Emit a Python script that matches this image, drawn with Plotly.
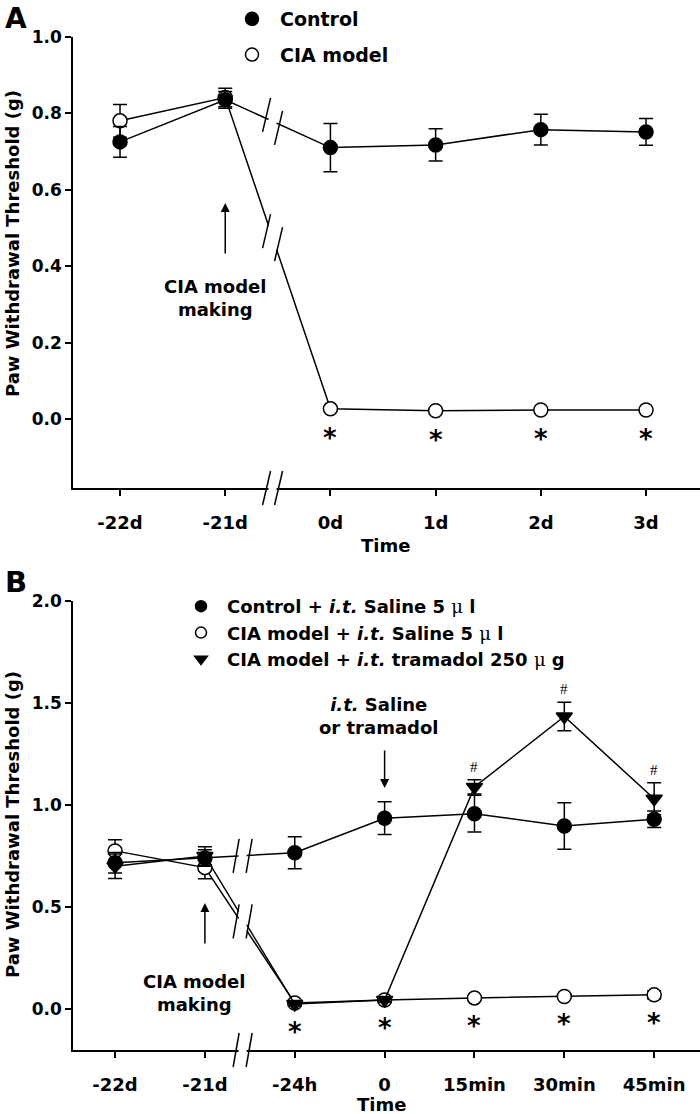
import plotly.graph_objects as go

W, H = 700, 1114

# ---------------- data: panel A ----------------
time_a = ["-22d", "-21d", "0d", "1d", "2d", "3d"]
control_a = [0.725, 0.835, 0.710, 0.717, 0.757, 0.751]
control_a_err = [0.040, 0.022, 0.063, 0.042, 0.040, 0.035]
cia_a = [0.780, 0.841, 0.027, 0.022, 0.024, 0.024]
cia_a_err = [0.043, 0.024, 0.004, 0.003, 0.003, 0.003]
sig_a = ["", "", "*", "*", "*", "*"]

# ---------------- data: panel B ----------------
time_b = ["-22d", "-21d", "-24h", "0", "15min", "30min", "45min"]
control_b = [0.717, 0.740, 0.766, 0.935, 0.957, 0.897, 0.930]
control_b_err = [0.050, 0.040, 0.078, 0.080, 0.090, 0.114, 0.040]
cia_b = [0.775, 0.693, 0.030, 0.045, 0.055, 0.062, 0.070]
cia_b_err = [0.055, 0.055, 0.010, 0.010, 0.010, 0.010, 0.020]
tram_b = [0.700, 0.750, 0.025, 0.045, 1.088, 1.433, 1.030]
tram_b_err = [0.060, 0.045, 0.010, 0.010, 0.035, 0.070, 0.078]
sig_b = ["", "", "*", "*", "*", "*", "*"]
hash_b = ["", "", "", "", "#", "#", "#"]

FONT = "DejaVu Sans"
SERIF = "Liberation Serif"
MU = "<span style='font-family:DejaVu Serif;font-weight:normal'>\u03bc</span>"

# ---------------- layout geometry (pixels) ----------------
PLOT_L = 73
A_TOP, A_BOT = 36.7, 488
B_TOP, B_BOT = 600.7, 1050
XA_RNG = [-0.447, 5.513]
YA_RNG = [-0.18, 1.0]
XB_RNG = [-0.468, 6.51]
YB_RNG = [-0.2, 2.0]


def xpx(v, rng):
    return PLOT_L + (v - rng[0]) / (rng[1] - rng[0]) * (W - PLOT_L)


def ypx(v, rng, top, bot):
    return bot - (v - rng[0]) / (rng[1] - rng[0]) * (bot - top)


def px2paper(x, y):
    return x / W, 1 - y / H


xa = list(range(len(time_a)))
xb = list(range(len(time_b)))

fig = go.Figure()


def err(arr):
    return dict(type="data", array=arr, color="black", thickness=1.5, width=7)


def line_trace(x, y, e, symbol, fill, xaxis, yaxis):
    return go.Scatter(
        x=x, y=y, mode="lines+markers", error_y=err(e),
        line=dict(color="black", width=1.5),
        marker=dict(symbol=symbol, size=14, color=fill,
                    line=dict(color="black", width=1.5)),
        showlegend=False, xaxis=xaxis, yaxis=yaxis, cliponaxis=False)


# Panel A traces
fig.add_trace(line_trace(xa, cia_a, cia_a_err, "circle", "white", "x", "y"))
fig.add_trace(line_trace(xa, control_a, control_a_err, "circle", "black", "x", "y"))
# Panel B traces
fig.add_trace(line_trace(xb, cia_b, cia_b_err, "circle", "white", "x2", "y2"))
fig.add_trace(line_trace(xb, tram_b, tram_b_err, "triangle-down", "black", "x2", "y2"))
fig.add_trace(line_trace(xb, control_b, control_b_err, "circle", "black", "x2", "y2"))


# legend entries
def leg(name, symbol, fill, legend, size, group):
    return go.Scatter(x=[None], y=[None], mode="markers", name=name,
                      marker=dict(symbol=symbol, size=size, color=fill,
                                  line=dict(color="black", width=1.5)),
                      legend=legend, legendgroup=group, xaxis="x", yaxis="y")


fig.add_trace(leg("Control", "circle", "black", "legend", 13, "a1"))
fig.add_trace(leg("CIA model", "circle", "white", "legend", 13, "a2"))
fig.add_trace(leg("Control + <i>i.t.</i> Saline 5 " + MU + " l", "circle", "black", "legend2", 11, "b1"))
fig.add_trace(leg("CIA model + <i>i.t.</i> Saline 5 " + MU + " l", "circle", "white", "legend2", 11, "b1"))
fig.add_trace(leg("CIA model + <i>i.t.</i> tramadol 250 " + MU + " g", "triangle-down", "black", "legend2", 11, "b1"))

shapes = []
annotations = []


def seg(xp, yp, dx0, dy0, dx1, dy1, color="black", width=1.5):
    ax, ay = px2paper(xp, yp)
    shapes.append(dict(type="line", xref="paper", yref="paper",
                       xsizemode="pixel", ysizemode="pixel",
                       xanchor=ax, yanchor=ay, x0=dx0, y0=dy0, x1=dx1, y1=dy1,
                       line=dict(color=color, width=width), layer="above"))


def add_break(bx_px, by_px, slope_px, pair, slash_dx):
    seg(bx_px, by_px, -4, 4 * slope_px, 4, -4 * slope_px, "white", 5)
    (sx, sy) = pair
    for k in (-1, 1):
        seg(bx_px + k * sx, by_px + k * sy, -slash_dx, -17, slash_dx, 17)


def line_break(bx, i, yvals, xr, yr, top, bot):
    x0p, x1p = xpx(i, xr), xpx(i + 1, xr)
    y0p, y1p = ypx(yvals[i], yr, top, bot), ypx(yvals[i + 1], yr, top, bot)
    bxp = xpx(bx, xr)
    slope = (y1p - y0p) / (x1p - x0p)
    byp = y0p + slope * (bxp - x0p)
    return bxp, byp, slope


# Panel A breaks
BREAK_A = 1.45
for yv in (control_a, cia_a):
    bxp, byp, s = line_break(BREAK_A, 1, yv, XA_RNG, YA_RNG, A_TOP, A_BOT)
    add_break(bxp, byp, s, (6, 6.5), 4)
add_break(xpx(BREAK_A, XA_RNG), A_BOT, 0, (6, 0), 4)

# Panel B breaks
BREAK_B = 1.42
bxp, byp, s = line_break(BREAK_B, 1, control_b, XB_RNG, YB_RNG, B_TOP, B_BOT)
add_break(bxp, byp, s, (6.5, 0), 3)
bxp, byc, sc = line_break(BREAK_B, 1, cia_b, XB_RNG, YB_RNG, B_TOP, B_BOT)
_, byt, st = line_break(BREAK_B, 1, tram_b, XB_RNG, YB_RNG, B_TOP, B_BOT)
seg(bxp, byc, -4, 4 * sc, 4, -4 * sc, "white", 5)
seg(bxp, byt, -4, 4 * st, 4, -4 * st, "white", 5)
for k in (-1, 1):
    seg(bxp + k * 6.5, (byc + byt) / 2, -3, -17, 3, 17)
add_break(xpx(BREAK_B, XB_RNG), B_BOT, 0, (6.5, 0), 3)

# significance markers
for i, t in enumerate(sig_a):
    if t:
        annotations.append(dict(x=xa[i], y=cia_a[i], xref="x", yref="y", text=t,
                                showarrow=False, yshift=-29,
                                font=dict(family=FONT, size=26, color="black", weight="bold")))
for i, t in enumerate(sig_b):
    if t:
        annotations.append(dict(x=xb[i], y=min(cia_b[i], tram_b[i]), xref="x2", yref="y2", text=t,
                                showarrow=False, yshift=-28,
                                font=dict(family=FONT, size=26, color="black", weight="bold")))
for i, t in enumerate(hash_b):
    if t:
        annotations.append(dict(x=xb[i], y=tram_b[i] + tram_b_err[i], xref="x2", yref="y2", text=t,
                                showarrow=False, yshift=13,
                                font=dict(family=SERIF, size=15, color="black")))


def txt(x, y, text, size=18, angle=0, xanchor="center"):
    xp, yp = px2paper(x, y)
    annotations.append(dict(x=xp, y=yp, xref="paper", yref="paper", text=text,
                            showarrow=False, textangle=angle, xanchor=xanchor, yanchor="middle",
                            font=dict(family=FONT, size=size, color="black", weight="bold")))


txt(3, 19, "A", 28, xanchor="left")
txt(3, 582, "B", 29, xanchor="left")
txt(12, 244, "Paw Withdrawal Threshold (g)", 18, -90)
txt(12, 825, "Paw Withdrawal Threshold (g)", 18, -90)
txt(385, 545, "Time", 18)
txt(381, 1104, "Time", 18)
txt(215, 298, "CIA model<br>making", 18)
txt(194, 993, "CIA model<br>making", 18)
txt(378, 716, "<i>i.t.</i> Saline<br>or tramadol", 18)


def arrow(x, y, ay, xref, yref):
    annotations.append(dict(x=x, y=y, xref=xref, yref=yref, text="", showarrow=True,
                            ax=0, ay=ay, arrowhead=2, arrowsize=1.2, arrowwidth=1.5,
                            arrowcolor="black"))


arrow(1, 0.565, 52, "x", "y")
arrow(1, 0.52, 42, "x2", "y2")
arrow(3, 1.083, -39, "x2", "y2")

axis_common = dict(showline=True, linecolor="black", linewidth=1.5, ticks="outside",
                   ticklen=6, tickwidth=1.5, tickcolor="black", showgrid=False,
                   zeroline=False, mirror=False, automargin=False)

fig.update_layout(
    width=W, height=H, margin=dict(l=0, r=0, t=0, b=0, autoexpand=False),
    paper_bgcolor="white", plot_bgcolor="white",
    xaxis=dict(domain=[PLOT_L / W, 1], range=XA_RNG, anchor="y", tickvals=xa, ticktext=time_a,
               tickfont=dict(family=FONT, size=18, color="black", weight="bold"),
               ticklabelstandoff=12, **axis_common),
    yaxis=dict(domain=[1 - A_BOT / H, 1 - A_TOP / H], range=YA_RNG, anchor="x",
               tickvals=[0, 0.2, 0.4, 0.6, 0.8, 1.0], tickformat=".1f",
               tickfont=dict(family=FONT, size=17, color="black", weight="bold"), **axis_common),
    xaxis2=dict(domain=[PLOT_L / W, 1], range=XB_RNG, anchor="y2", tickvals=xb, ticktext=time_b,
                tickfont=dict(family=FONT, size=18, color="black", weight="bold"),
                ticklabelstandoff=12, **axis_common),
    yaxis2=dict(domain=[1 - B_BOT / H, 1 - B_TOP / H], range=YB_RNG, anchor="x2",
                tickvals=[0, 0.5, 1.0, 1.5, 2.0], tickformat=".1f",
                tickfont=dict(family=FONT, size=17, color="black", weight="bold"), **axis_common),
    legend=dict(x=224 / W, y=1.0, xanchor="left", yanchor="top", itemwidth=46,
                bgcolor="rgba(0,0,0,0)", tracegroupgap=8,
                font=dict(family=FONT, size=19, color="black", weight="bold")),
    legend2=dict(x=175 / W, y=1 - 588 / H, xanchor="left", yanchor="top", itemwidth=42,
                 bgcolor="rgba(0,0,0,0)",
                 font=dict(family=FONT, size=18, color="black", weight="bold")),
    shapes=shapes, annotations=annotations,
)

fig.write_html("out.html", config={"displayModeBar": False},
               post_script="document.body.style.margin='0';")
